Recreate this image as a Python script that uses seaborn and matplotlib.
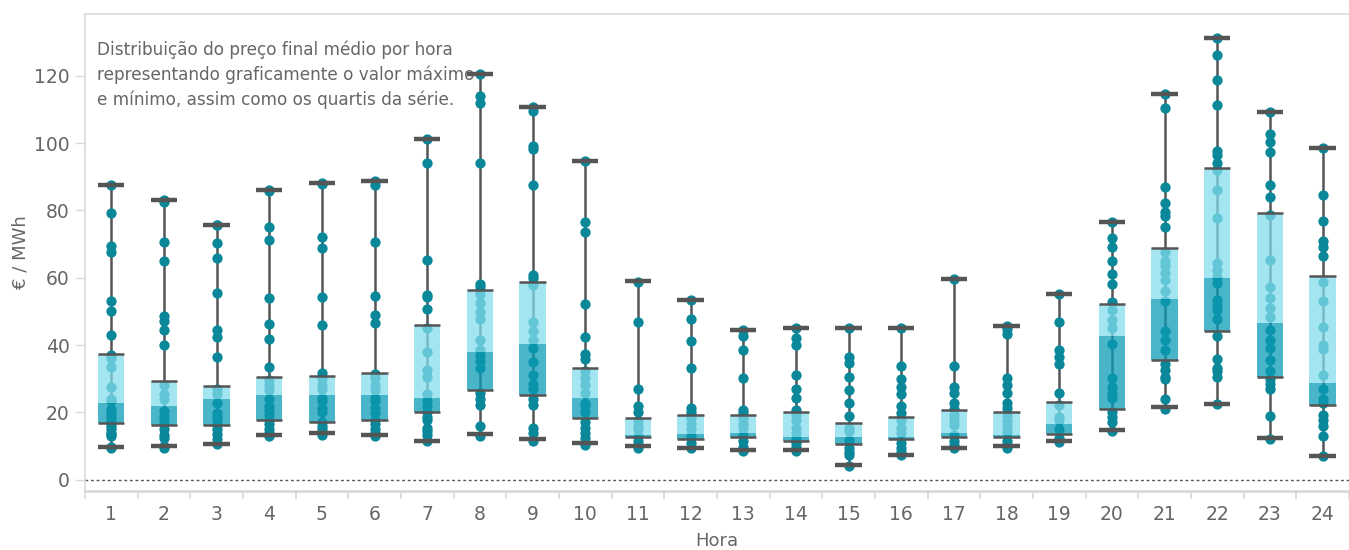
import matplotlib

matplotlib.use("Agg")

import matplotlib.pyplot as plt
import numpy as np
import pandas as pd
import seaborn as sns


HOURS = [str(h) for h in range(1, 25)]

# per-hour summary (min, Q1, median, Q3, max)
MINS = [9.8, 10.0, 10.7, 13.4, 13.8, 13.4, 11.5, 13.5, 12.0, 10.8, 10.0, 9.4,
        8.8, 8.8, 4.3, 7.3, 9.4, 9.9, 11.5, 14.9, 21.6, 22.4, 12.4, 7.0]
Q1S = [16.8, 16.1, 16.1, 17.8, 17.1, 17.7, 20.0, 26.6, 25.1, 18.3, 12.6, 12.1,
       12.6, 11.6, 10.5, 12.1, 12.6, 12.6, 13.6, 21.1, 35.7, 44.2, 30.6, 22.1]
MEDIANS = [22.8, 22.0, 23.9, 25.2, 25.2, 25.2, 24.3, 37.8, 40.3, 24.4, 13.2, 13.6,
           13.9, 12.6, 12.8, 12.6, 14.0, 13.2, 16.4, 42.8, 53.8, 59.8, 46.4, 28.8]
Q3S = [37.2, 29.3, 27.8, 30.6, 30.9, 31.6, 45.9, 56.3, 58.6, 33.1, 18.3, 19.2,
       19.2, 20.0, 16.8, 18.5, 20.6, 20.0, 23.1, 52.1, 68.8, 92.7, 79.2, 60.6]
MAXS = [87.5, 83.0, 75.8, 86.0, 88.0, 88.6, 101.3, 120.4, 110.7, 94.6, 59.0, 53.5,
        44.5, 45.0, 45.0, 45.0, 59.6, 45.6, 55.1, 76.6, 114.5, 131.1, 109.3, 98.4]

# daily average prices per hour (points)
PRICES = {
    "1": [87.5, 79.3, 69.5, 67.6, 53.1, 50.2, 43.0, 37.0, 36.1, 33.4, 27.6, 24.1, 23.5,
          21.0, 20.0, 19.5, 18.5, 17.5, 16.8, 16.0, 15.0, 14.0, 13.5, 13.0, 9.8, 9.3],
    "2": [83.0, 82.4, 70.5, 65.0, 48.5, 47.0, 44.6, 39.9, 28.2, 25.4, 24.1, 20.5, 19.0,
          18.0, 16.5, 15.0, 13.4, 12.4, 10.0, 9.3],
    "3": [75.8, 75.6, 70.2, 65.9, 55.6, 44.6, 42.3, 36.3, 27.0, 25.5, 22.8, 19.7, 18.6,
          17.6, 16.1, 15.0, 13.5, 12.0, 10.5],
    "4": [86.0, 85.8, 75.1, 71.3, 53.9, 46.1, 41.8, 33.6, 29.6, 28.0, 26.5, 23.9, 21.8,
          20.7, 19.2, 17.8, 16.6, 15.0, 14.0, 12.9],
    "5": [88.0, 87.7, 72.0, 68.9, 54.4, 46.0, 31.6, 30.3, 28.0, 27.0, 24.4, 23.3, 21.3,
          20.2, 17.1, 16.0, 15.0, 13.4],
    "6": [88.6, 87.4, 70.7, 54.6, 48.9, 46.6, 31.4, 30.3, 28.0, 26.5, 24.4, 23.3, 21.3,
          19.7, 17.7, 16.6, 15.0, 14.0, 12.9],
    "7": [101.3, 94.0, 65.4, 54.8, 54.3, 50.7, 45.2, 38.0, 32.7, 30.6, 25.4, 23.3, 21.8,
          20.0, 18.6, 17.6, 15.5, 14.5, 13.4, 11.4],
    "8": [120.4, 114.0, 111.9, 94.1, 58.2, 57.2, 55.1, 52.5, 49.9, 47.8, 41.6, 38.4,
          36.9, 35.3, 33.2, 25.9, 23.9, 22.3, 16.0, 12.9],
    "9": [110.7, 109.5, 99.1, 98.3, 87.6, 60.8, 59.8, 57.7, 46.8, 44.2, 41.6, 39.0,
          35.0, 31.1, 28.5, 27.0, 23.9, 22.3, 15.5, 14.0, 11.4],
    "10": [94.6, 76.5, 73.5, 52.2, 42.3, 37.4, 35.8, 32.2, 30.1, 28.0, 25.9, 22.8,
           21.8, 20.2, 17.1, 15.5, 14.0, 12.4, 10.3],
    "11": [58.8, 46.8, 27.0, 21.8, 20.2, 17.5, 16.0, 15.0, 12.9, 11.4, 10.4, 9.5],
    "12": [53.5, 47.8, 41.3, 33.2, 21.3, 20.2, 18.2, 16.6, 15.0, 13.0, 10.8, 9.3],
    "13": [44.5, 42.8, 38.4, 30.3, 20.7, 19.9, 18.2, 16.6, 15.5, 13.4, 11.4, 9.8, 8.4],
    "14": [45.0, 42.1, 40.0, 31.1, 27.0, 24.4, 20.7, 19.2, 17.6, 15.5, 14.0, 12.2,
           10.8, 9.8, 8.4],
    "15": [45.0, 36.4, 34.8, 30.6, 26.5, 22.8, 18.9, 15.5, 14.5, 11.9, 9.3, 8.2,
           7.2, 4.1],
    "16": [45.0, 33.8, 29.8, 27.5, 25.4, 21.8, 19.7, 17.6, 15.5, 14.0, 10.8, 9.3,
           8.2, 7.2],
    "17": [59.6, 33.8, 27.5, 25.9, 22.8, 20.9, 19.2, 17.6, 16.1, 13.4, 11.4, 10.4,
           9.3],
    "18": [45.6, 44.7, 43.3, 30.1, 28.2, 25.9, 22.8, 21.3, 18.9, 17.4, 15.8, 14.2,
           11.4, 10.4, 9.3],
    "19": [55.1, 46.8, 38.4, 36.4, 34.3, 25.9, 22.3, 18.6, 17.6, 15.0, 12.4, 11.1],
    "20": [76.6, 71.8, 69.2, 65.0, 61.0, 58.0, 52.8, 50.4, 47.3, 45.2, 40.2, 30.1,
           27.5, 25.9, 24.4, 20.2, 18.6, 17.1, 14.5],
    "21": [114.5, 110.3, 86.9, 82.2, 79.6, 78.2, 75.1, 67.6, 65.0, 63.4, 61.4, 59.3,
           56.1, 53.0, 44.2, 41.6, 38.4, 34.3, 32.7, 30.6, 29.8, 23.9, 20.9],
    "22": [131.1, 126.1, 118.6, 111.4, 97.6, 96.3, 94.2, 91.9, 86.0, 77.6, 64.5, 62.4,
           60.3, 58.4, 53.5, 52.0, 50.4, 47.6, 42.6, 35.8, 33.2, 32.2, 30.6, 22.4],
    "23": [109.3, 102.8, 100.4, 97.3, 87.4, 84.1, 78.5, 65.3, 57.2, 54.1, 50.9, 48.3,
           44.5, 41.6, 39.2, 35.5, 32.2, 29.8, 28.5, 27.0, 18.9, 12.2],
    "24": [98.4, 84.5, 76.8, 71.0, 69.0, 66.3, 58.8, 53.0, 45.4, 40.0, 38.8, 31.1,
           27.0, 23.9, 22.8, 19.2, 17.6, 16.0, 12.9, 7.0],
}

NOTE = ("Distribuição do preço final médio por hora\n"
        "representando graficamente o valor máximo\n"
        "e mínimo, assim como os quartis da série.")

POINT_COLOR = "#0A8799"
DARK_BOX = "#0A9BB5"
LIGHT_BOX = "#83DDED"
GREY = "#555555"
TEXT_GREY = "#666666"


def main():
    sns.set_theme(style="white")
    plt.rcParams["font.family"] = ["DejaVu Sans"]

    df = pd.DataFrame(
        [(hour, value) for hour in HOURS for value in PRICES[hour]],
        columns=["hora", "preco"],
    )

    fig = plt.figure(figsize=(13.49, 5.5), dpi=100)
    ax = fig.add_axes([0.063, 0.107, 0.937, 0.868])

    x = np.arange(len(HOURS))
    half = 0.25

    ax.vlines(x, MINS, MAXS, color=GREY, lw=1.8, zorder=1)

    sns.stripplot(data=df, x="hora", y="preco", order=HOURS, jitter=False,
                  color=POINT_COLOR, size=7.4, linewidth=0, ax=ax, zorder=2)

    q1 = np.array(Q1S)
    med = np.array(MEDIANS)
    q3 = np.array(Q3S)
    ax.bar(x, med - q1, bottom=q1, width=2 * half, color=DARK_BOX, alpha=0.74,
           linewidth=0, zorder=3)
    ax.bar(x, q3 - med, bottom=med, width=2 * half, color=LIGHT_BOX, alpha=0.74,
           linewidth=0, zorder=3)
    ax.hlines(Q1S, x - half, x + half, color=GREY, lw=1.8, zorder=4)
    ax.hlines(Q3S, x - half, x + half, color=GREY, lw=1.8, zorder=4)
    ax.hlines(MINS, x - half, x + half, color=GREY, lw=3.2, zorder=4)
    ax.hlines(MAXS, x - half, x + half, color=GREY, lw=3.2, zorder=4)

    ax.axhline(0, color="#555555", lw=1.0, ls=(0, (2, 2)), zorder=1)

    ax.set_xlim(-0.5, len(HOURS) - 0.5)
    ax.set_ylim(-3.4, 138.4)
    ax.set_yticks([0, 20, 40, 60, 80, 100, 120])

    # tableau-like frame: grey top/left, axis line at bottom
    ax.spines["right"].set_visible(False)
    for side in ["top", "left", "bottom"]:
        ax.spines[side].set_color("#D9D9D9")
        ax.spines[side].set_linewidth(1.2)
    ax.spines["bottom"].set_linewidth(2.0)

    ax.set_xticks(x)
    ax.set_xticklabels(HOURS)
    ax.set_xticks(np.arange(len(HOURS) + 1) - 0.5, minor=True)
    ax.tick_params(axis="x", which="major", length=0, pad=10, labelsize=13.5,
                   labelcolor=TEXT_GREY)
    ax.tick_params(axis="x", which="minor", length=6, width=1.2, color="#D9D9D9",
                   direction="out", bottom=True)
    ax.tick_params(axis="y", length=7, width=1.0, color="#D9D9D9", pad=4,
                   labelsize=13.5, labelcolor=TEXT_GREY, left=True)

    ax.set_xlabel("Hora", fontsize=13, color=TEXT_GREY, labelpad=6)
    ax.set_ylabel("€ / MWh", fontsize=13, color=TEXT_GREY)
    ax.yaxis.set_label_coords(-0.044, 0.5)

    ax.text(0.0095, 0.945, NOTE, transform=ax.transAxes, ha="left", va="top",
            fontsize=12.2, color=TEXT_GREY, linespacing=1.45, zorder=0)

    fig.savefig("out.png", dpi=100, facecolor="white")
    plt.close(fig)


if __name__ == "__main__":
    main()
